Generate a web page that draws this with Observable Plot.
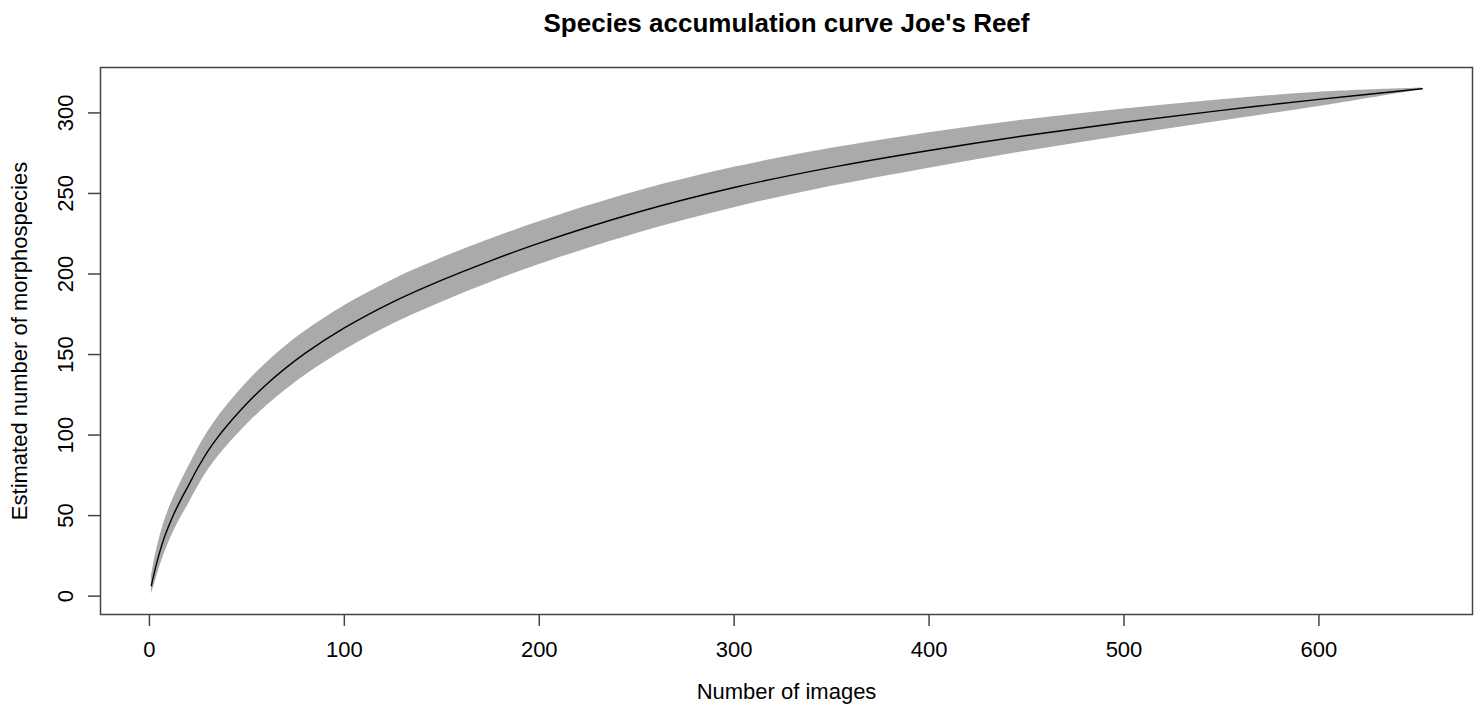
<!DOCTYPE html>
<html>
<head>
<meta charset="utf-8">
<script src="https://cdn.jsdelivr.net/npm/d3@7"></script>
<script src="https://cdn.jsdelivr.net/npm/@observablehq/plot@0.6"></script>
<style>
  html, body { margin: 0; padding: 0; background: #fff; }
  #chart { width: 1480px; height: 708px; }
</style>
</head>
<body>
<div id="chart"></div>
<script>
const titleText = "Species accumulation curve Joe's Reef";
const xLabel = "Number of images";
const yLabel = "Estimated number of morphospecies";

const sites    = [1, 2, 3, 5, 8, 12, 16, 20, 25, 30, 35, 40, 50, 60, 70, 80, 100, 125, 150, 175, 200, 250, 300, 350, 400, 450, 500, 550, 600, 653];
const richness = [6.6, 12, 17, 26.2, 37.6, 49.6, 59.6, 68.6, 80, 90.1, 98.6, 106.1, 119.6, 131.4, 141.7, 150.9, 166.5, 182.7, 196.2, 208.2, 219.2, 238.2, 253.7, 266.2, 276.7, 286, 294.2, 301.6, 308.4, 315];
const lowerCI  = [1.2, 5, 9, 17.2, 27.6, 39.1, 48.6, 57.1, 68.2, 78.1, 86.35, 93.6, 106.6, 118, 128.1, 137.2, 152.7, 168.9, 182.5, 194.7, 205.9, 225.2, 241.2, 254.4, 265.7, 276.2, 285.9, 295, 304, 314.6];
const upperCI  = [12, 19, 25, 35.2, 47.6, 60.1, 70.6, 80.1, 91.8, 102.1, 110.85, 118.6, 132.6, 144.8, 155.3, 164.6, 180.3, 196.5, 209.9, 221.7, 232.5, 251.2, 266.2, 278, 287.7, 295.8, 302.5, 308.2, 312.8, 315.4];

const xTicks = [0, 100, 200, 300, 400, 500, 600];
const yTicks = [0, 50, 100, 150, 200, 250, 300];

const rows = sites.map((s, i) => ({sites: s, richness: richness[i], lo: lowerCI[i], hi: upperCI[i]}));

const font = "'Liberation Sans', Arial, Helvetica, sans-serif";
const axisColor = "#444";

const chart = Plot.plot({
  width: 1480,
  height: 708,
  marginLeft: 100,
  marginRight: 8,
  marginTop: 67,
  marginBottom: 94,
  style: {fontFamily: font, background: "#fff", color: "#000"},
  x: {domain: [-25.1, 678.8]},
  y: {domain: [-11.4, 328.2]},
  marks: [
    Plot.areaY(rows, {x: "sites", y1: "lo", y2: "hi", fill: "#aaaaaa", curve: "catmull-rom"}),
    Plot.lineY(rows, {x: "sites", y: "richness", stroke: "#000", strokeWidth: 1.4, curve: "catmull-rom"}),
    Plot.frame({stroke: axisColor, strokeWidth: 1.5}),
    Plot.axisX({ticks: xTicks, tickSize: 12, tickPadding: 15, fontSize: 22, label: null, stroke: axisColor, strokeWidth: 1.5, fill: "#000"}),
    Plot.axisY({ticks: yTicks, tickSize: 12, tickFormat: () => "", label: null, stroke: axisColor, strokeWidth: 1.5}),
    Plot.text(yTicks, {y: d => d, text: d => String(d), frameAnchor: "left", dx: -28, rotate: -90, fontSize: 22, textAnchor: "middle", lineAnchor: "bottom", fill: "#000"}),
    Plot.text([titleText], {text: d => d, frameAnchor: "top", dy: -36, fontSize: 26, fontWeight: "bold", lineAnchor: "bottom", textAnchor: "middle", fill: "#000"}),
    Plot.text([xLabel], {text: d => d, frameAnchor: "bottom", dy: 84, fontSize: 22, lineAnchor: "bottom", textAnchor: "middle", fill: "#000"}),
    Plot.text([yLabel], {text: d => d, frameAnchor: "left", dx: -74, rotate: -90, fontSize: 22, lineAnchor: "bottom", textAnchor: "middle", fill: "#000"})
  ]
});
document.getElementById("chart").appendChild(chart);
</script>
</body>
</html>
